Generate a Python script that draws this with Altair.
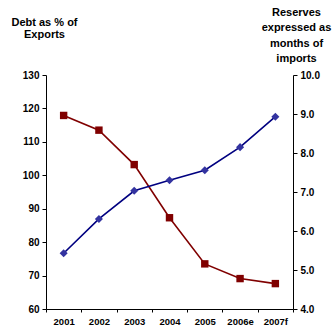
import altair as alt
import pandas as pd

years = ["2001", "2002", "2003", "2004", "2005", "2006e", "2007f"]
debt_pct_exports = [117.9, 113.5, 103.2, 87.3, 73.5, 69.1, 67.6]
reserves_months = [5.43, 6.31, 7.03, 7.30, 7.56, 8.15, 8.93]
debt_ticks = [60, 70, 80, 90, 100, 110, 120, 130]
reserve_ticks = [4, 5, 6, 7, 8, 9, 10]

df = pd.DataFrame({"year": years, "debt": debt_pct_exports, "reserves": reserves_months})

FONT = "Liberation Sans"

x_enc = alt.X(
    "year:N",
    sort=years,
    scale=alt.Scale(type="band", paddingInner=0, paddingOuter=0),
    axis=alt.Axis(
        title=None, labelAngle=0, tickBand="extent", domainColor="black",
        tickColor="black", tickSize=3, labelFont=FONT, labelFontWeight="bold",
        labelFontSize=9.5, labelColor="black", labelPadding=4, grid=False,
        labelOverlap=False,
    ),
)

y_debt = alt.Y(
    "debt:Q",
    scale=alt.Scale(domain=[60, 130], nice=False, zero=False),
    axis=alt.Axis(
        values=debt_ticks, labelOverlap=False,
        title=["Debt as % of", "Exports"], titleAngle=0, titleAlign="center",
        titleBaseline="alphabetic", titleX=-2, titleY=-50, titleLineHeight=12.5,
        titleFont=FONT, titleFontSize=11, titleFontWeight="bold", titleColor="black",
        labelFont=FONT, labelFontWeight="bold", labelFontSize=10, labelColor="black",
        domainColor="black", tickColor="black", tickSize=4, labelPadding=3, grid=False,
    ),
)

y_res = alt.Y(
    "reserves:Q",
    scale=alt.Scale(domain=[4, 10], nice=False, zero=False),
    axis=alt.Axis(
        orient="right", values=reserve_ticks, format=".1f", labelOverlap=False,
        title=["Reserves", "expressed as", "months of", "imports"], titleAngle=0,
        titleAlign="center", titleBaseline="alphabetic", titleX=3, titleY=-60,
        titleLineHeight=15.5, titleFont=FONT, titleFontSize=11, titleFontWeight="bold",
        titleColor="black", labelFont=FONT, labelFontWeight="bold", labelFontSize=10,
        labelColor="black", domainColor="black", tickColor="black", tickSize=4,
        labelPadding=3, grid=False,
    ),
)

base = alt.Chart(df)

debt_line = base.mark_line(color="#800000", strokeWidth=1.6).encode(x=x_enc, y=y_debt)
debt_pts = base.mark_point(shape="square", filled=True, opacity=1, color="#800000", size=55).encode(
    x=x_enc, y=y_debt
)
res_line = base.mark_line(color="#000080", strokeWidth=1.6).encode(x=x_enc, y=y_res)
res_pts = base.mark_point(shape="diamond", filled=True, opacity=1, color="#3333a0", size=65).encode(
    x=x_enc, y=y_res
)

left = alt.layer(debt_line, debt_pts)
right = alt.layer(res_line, res_pts)

chart = alt.layer(left, right).resolve_scale(y="independent").properties(
    width=247, height=234,
    autosize=alt.AutoSizeParams(type="none"),
    padding={"left": 46, "top": 75, "right": 43, "bottom": 21},
    background="white",
).configure_view(stroke=None)

chart.save("out.html", embed_options={"renderer": "svg", "actions": False})
